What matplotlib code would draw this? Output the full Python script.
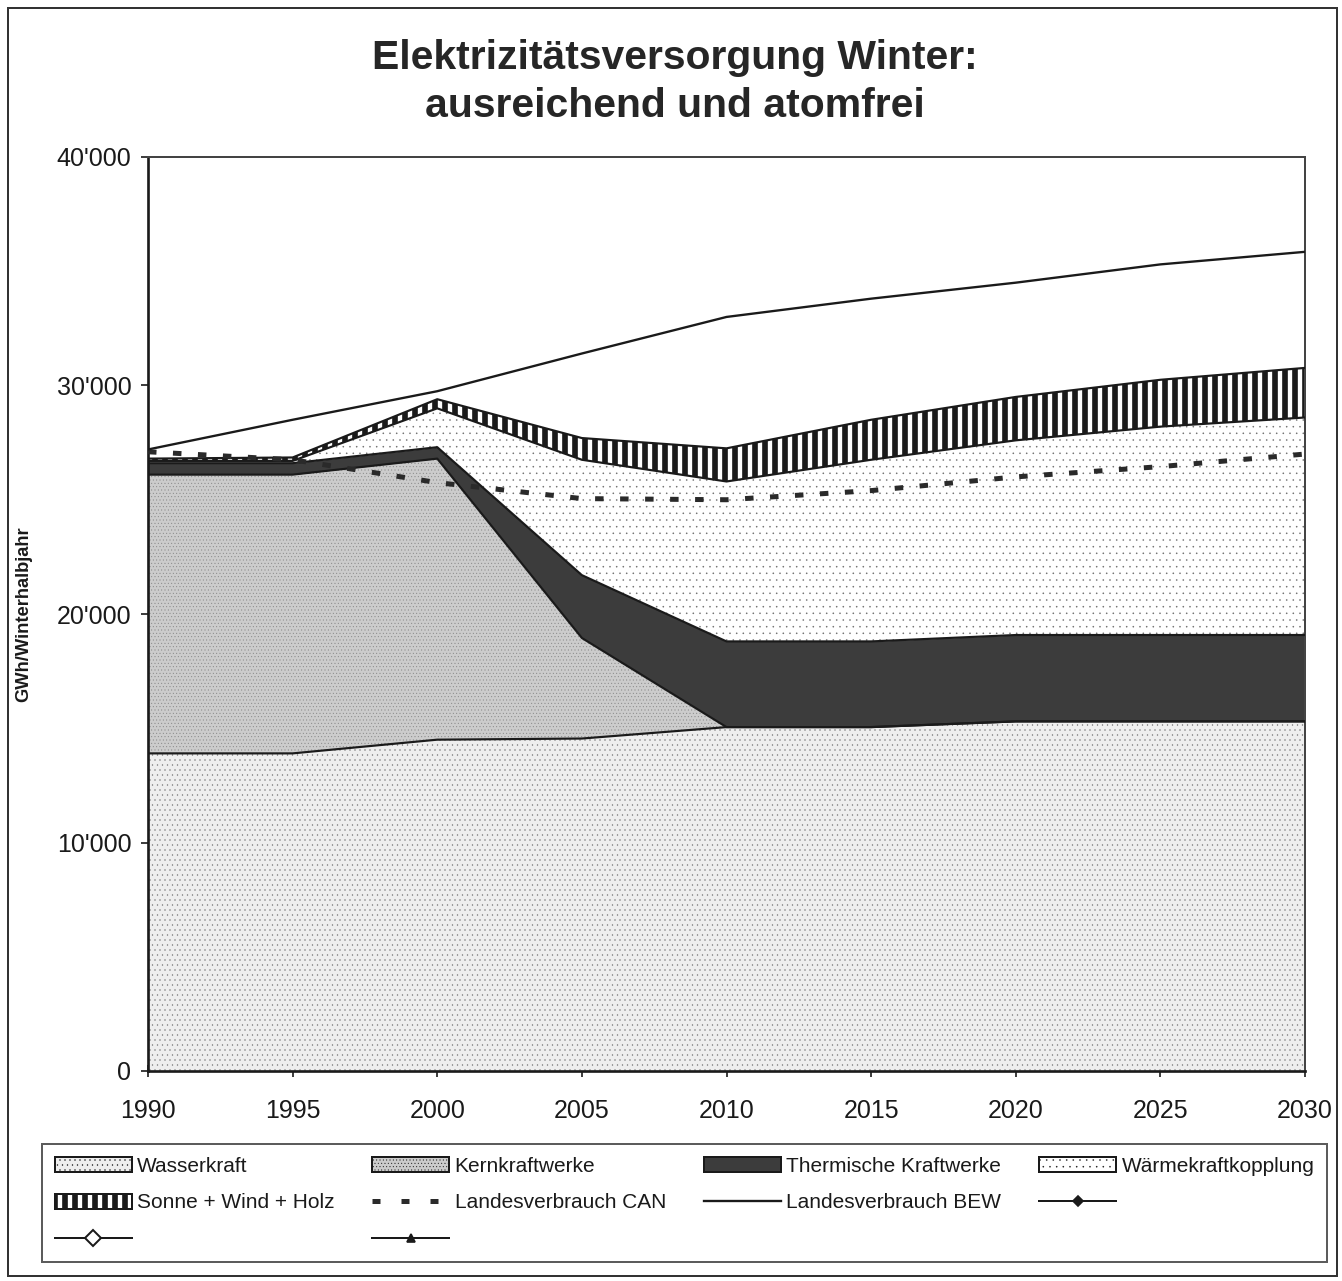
import numpy as np
import matplotlib
matplotlib.use("Agg")
import matplotlib.pyplot as plt
from matplotlib.patches import Patch, Rectangle
from matplotlib.lines import Line2D
from matplotlib.ticker import FuncFormatter

# ---------------------------------------------------------------------
# Data (GWh per winter half-year)
# ---------------------------------------------------------------------
YEARS = [1990, 1995, 2000, 2005, 2010, 2015, 2020, 2025, 2030]
WASSERKRAFT = [13900, 13900, 14500, 14550, 15050, 15050, 15300, 15300, 15300]
KERNKRAFT = [12200, 12200, 12300, 4400, 0, 0, 0, 0, 0]
THERMISCH = [500, 500, 500, 2750, 3750, 3750, 3780, 3780, 3780]
WKK = [100, 100, 1700, 5050, 7000, 7950, 8520, 9120, 9520]
SONNE_WIND_HOLZ = [100, 150, 400, 950, 1450, 1750, 1900, 2050, 2170]
VERBRAUCH_CAN = [27100, 26750, 25750, 25050, 25000, 25400, 26000, 26450, 27000]
VERBRAUCH_BEW = [27200, 28500, 29750, 31400, 33000, 33800, 34500, 35300, 35850]

LABELS = ["Wasserkraft", "Kernkraftwerke", "Thermische Kraftwerke",
          "Wärmekraftkopplung", "Sonne + Wind + Holz"]
Y_TICKS = [0, 10000, 20000, 30000, 40000]

DPI = 120
W_PX, H_PX = 1342, 1281

plt.rcParams["font.family"] = ["Liberation Sans", "DejaVu Sans"]

# fill styles: (facecolor, hatch, hatch colour, hatch linewidth)
STYLES = [
    ("#eeeeee", "....", "#7a7a7a", 0.25),
    ("#cccccc", "......", "#858585", 0.25),
    ("#3c3c3c", None, "#3c3c3c", 0.5),
    ("#ffffff", "...", "#6a6a6a", 0.15),
    ("#ffffff", "||", "#1a1a1a", 3.4),
]


def fmt_thousands(v, pos):
    return f"{int(v):,}".replace(",", "'")


def hatched_fill(ax, x, lo, hi, style):
    face, hatch, hcol, hlw = style
    with plt.rc_context({"hatch.linewidth": hlw}):
        coll = ax.fill_between(x, lo, hi, facecolor=face, edgecolor=hcol,
                               hatch=hatch, linewidth=0, zorder=2)
    if hasattr(coll, "set_hatch_linewidth"):
        coll.set_hatch_linewidth(hlw)
    return coll


def legend_patch(style, label):
    face, hatch, hcol, hlw = style
    return Patch(facecolor=face, edgecolor="#1a1a1a", hatch=hatch,
                 linewidth=1.2, label=label)


fig = plt.figure(figsize=(W_PX / DPI, H_PX / DPI), dpi=DPI)
fig.patch.set_facecolor("white")

left, right, top, bottom = 148, 1305, 157, 1071
ax = fig.add_axes([left / W_PX, 1 - bottom / H_PX, (right - left) / W_PX, (bottom - top) / H_PX])

x = np.array(YEARS)
layers = [np.array(v, dtype=float) for v in
          (WASSERKRAFT, KERNKRAFT, THERMISCH, WKK, SONNE_WIND_HOLZ)]
base = np.zeros_like(x, dtype=float)
tops = []
for vals, style in zip(layers, STYLES):
    hatched_fill(ax, x, base, base + vals, style)
    base = base + vals
    tops.append(base.copy())

for t in tops:
    ax.plot(x, t, color="#1a1a1a", linewidth=1.3, zorder=3)

ax.plot(x, VERBRAUCH_CAN, color="#2a2a2a", linewidth=3.0,
        dashes=(1.7, 3.3), solid_capstyle="butt", dash_capstyle="butt", zorder=4)
ax.plot(x, VERBRAUCH_BEW, color="#1a1a1a", linewidth=1.4, zorder=4)

ax.set_xlim(1990, 2030)
ax.set_ylim(0, 40000)
ax.set_xticks(YEARS)
ax.set_yticks(Y_TICKS)
ax.yaxis.set_major_formatter(FuncFormatter(fmt_thousands))
ax.tick_params(axis="x", direction="inout", length=7, width=1, pad=13,
               labelsize=15, colors="#1a1a1a")
ax.tick_params(axis="y", direction="out", length=4, width=1, pad=6,
               labelsize=15, colors="#1a1a1a")
for sp in ax.spines.values():
    sp.set_color("#444444")
    sp.set_linewidth(1.2)
ax.spines["left"].set_color("#1a1a1a")
ax.spines["bottom"].set_color("#1a1a1a")
ax.spines["left"].set_linewidth(1.6)
ax.spines["bottom"].set_linewidth(1.6)

ax.set_ylabel("GWh/Winterhalbjahr", fontsize=11, fontweight="bold", color="#1a1a1a")
ax.yaxis.set_label_coords((32 - left) / (right - left), 0.5)

fig.text(675 / W_PX, 1 - 58 / H_PX, "Elektrizitätsversorgung Winter:",
         ha="center", va="center", fontsize=24.5, fontweight="bold", color="#262626")
fig.text(675 / W_PX, 1 - 106 / H_PX, "ausreichend und atomfrei",
         ha="center", va="center", fontsize=24.5, fontweight="bold", color="#262626")

# outer frame of the page
fig.add_artist(Rectangle((8 / W_PX, 1 - 1276 / H_PX), 1329 / W_PX, 1268 / H_PX,
                         transform=fig.transFigure, fill=False,
                         edgecolor="#333333", linewidth=1.2))

# legend (column-major order so the rows read as in the original)
p_w, p_k, p_t, p_wkk, p_s = [legend_patch(s, l) for s, l in zip(STYLES, LABELS)]
h_can = Line2D([], [], color="#2a2a2a", linewidth=3.0, dashes=(1.6, 4.2),
               dash_capstyle="butt")
h_bew = Line2D([], [], color="#1a1a1a", linewidth=1.4)
h_dia = Line2D([], [], color="#1a1a1a", linewidth=1.2, marker="D",
               markersize=4, markerfacecolor="#1a1a1a")
h_odia = Line2D([], [], color="#1a1a1a", linewidth=1.2, marker="D",
                markersize=7, markerfacecolor="white", markeredgewidth=1.2)
h_tri = Line2D([], [], color="#1a1a1a", linewidth=1.2, marker="^",
               markersize=4.5, markerfacecolor="#1a1a1a")

handles = [p_w, p_s, h_odia, p_k, h_can, h_tri, p_t, h_bew, p_wkk, h_dia]
labels = ["Wasserkraft", "Sonne + Wind + Holz", "",
          "Kernkraftwerke", "Landesverbrauch CAN", "",
          "Thermische Kraftwerke", "Landesverbrauch BEW",
          "Wärmekraftkopplung", ""]
leg = fig.legend(handles, labels, ncol=4, mode="expand", loc="center",
                 bbox_to_anchor=(42 / W_PX, 1 - 1258 / H_PX, 1285 / W_PX, 110 / H_PX),
                 fontsize=12.5, frameon=True, fancybox=False, shadow=False,
                 handlelength=3.7, handleheight=0.7, handletextpad=0.25,
                 labelspacing=0.85, borderpad=0.6, borderaxespad=0,
                 numpoints=1)
leg.get_frame().set_edgecolor("#333333")
leg.get_frame().set_linewidth(1.2)
for txt in leg.get_texts():
    txt.set_color("#1a1a1a")

# hatch line widths for the legend swatches
hlw_by_label = {l: s[3] for l, s in zip(LABELS, STYLES)}
for patch in leg.get_patches():
    lw = hlw_by_label.get(patch.get_label())
    if lw is not None and hasattr(patch, "set_hatch_linewidth"):
        patch.set_hatch_linewidth(lw)
for h, lab in zip(leg.legend_handles, labels):
    if lab in hlw_by_label and hasattr(h, "set_hatch_linewidth"):
        h.set_hatch_linewidth(hlw_by_label[lab])

fig.savefig("out.png", dpi=DPI, facecolor="white")
